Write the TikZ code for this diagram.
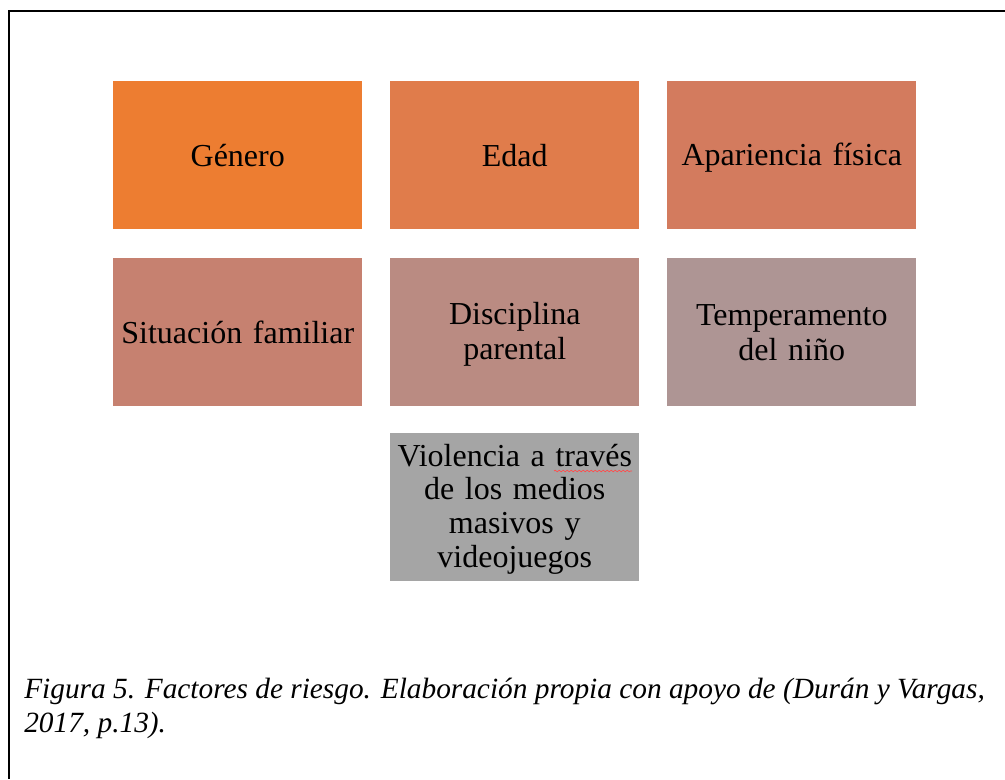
\documentclass[tikz,border=0pt]{standalone}
\usepackage{fontspec}
\setmainfont{Liberation Serif}
\usetikzlibrary{decorations.pathmorphing}
\definecolor{cA}{RGB}{237,125,49}
\definecolor{cB}{RGB}{224,124,75}
\definecolor{cC}{RGB}{211,123,94}
\definecolor{cD}{RGB}{198,129,112}
\definecolor{cE}{RGB}{186,139,130}
\definecolor{cF}{RGB}{174,149,148}
\definecolor{cG}{RGB}{165,165,165}
\newcommand\fst{\rule[-3.5pt]{0pt}{23.5pt}}
\tikzset{
  factor/.style={minimum width=186.75pt, minimum height=111pt, inner sep=0pt,
    align=center, text width=184pt, font=\fontsize{24}{25}\selectfont, anchor=north west},
  frameline/.style={line width=1.6pt, black}
}
\begin{document}
\begin{tikzpicture}[x=0.75pt,y=-0.75pt]
\useasboundingbox (0,0) rectangle (1005,779);
\fill[white] (0,0) rectangle (1005,779);
\coordinate (tl) at (9,11);
\coordinate (tr) at (1005,11);
\coordinate (bl) at (9,779);
\draw[frameline] (tr) -- (tl) -- (bl);
\node[factor, fill=cA] (g) at (113,81) {\fst Género};
\node[factor, fill=cB] (e) at (390,81) {\fst Edad};
\node[factor, fill=cC] (a) at (667,81) {\fst Apariencia física};
\node[factor, fill=cD] (s) at (113,258) {\fst Situación familiar};
\node[factor, fill=cE] (d) at (390,258) {\fst Disciplina\\\fst parental};
\node[factor, fill=cF] (t) at (667,258) {\fst Temperamento\\\fst del niño};
\node[factor, fill=cG] (v) at (390,433) {\fst Violencia a través\\\fst de los medios\\\fst masivos y\\\fst videojuegos};
\coordinate (sq1) at (554,471);
\coordinate (sq2) at (632,471);
\draw[red!70!white, line width=0.5pt, decorate, decoration={snake, amplitude=0.6pt, segment length=3pt}] (sq1) -- (sq2);
\node[anchor=west, align=left, inner sep=0pt, font=\fontsize{22}{25.5}\selectfont\itshape] (cap) at (24,708)
  {Figura 5. Factores de riesgo. Elaboración propia con apoyo de (Durán y Vargas,\\2017, p.13).};
\end{tikzpicture}
\end{document}
